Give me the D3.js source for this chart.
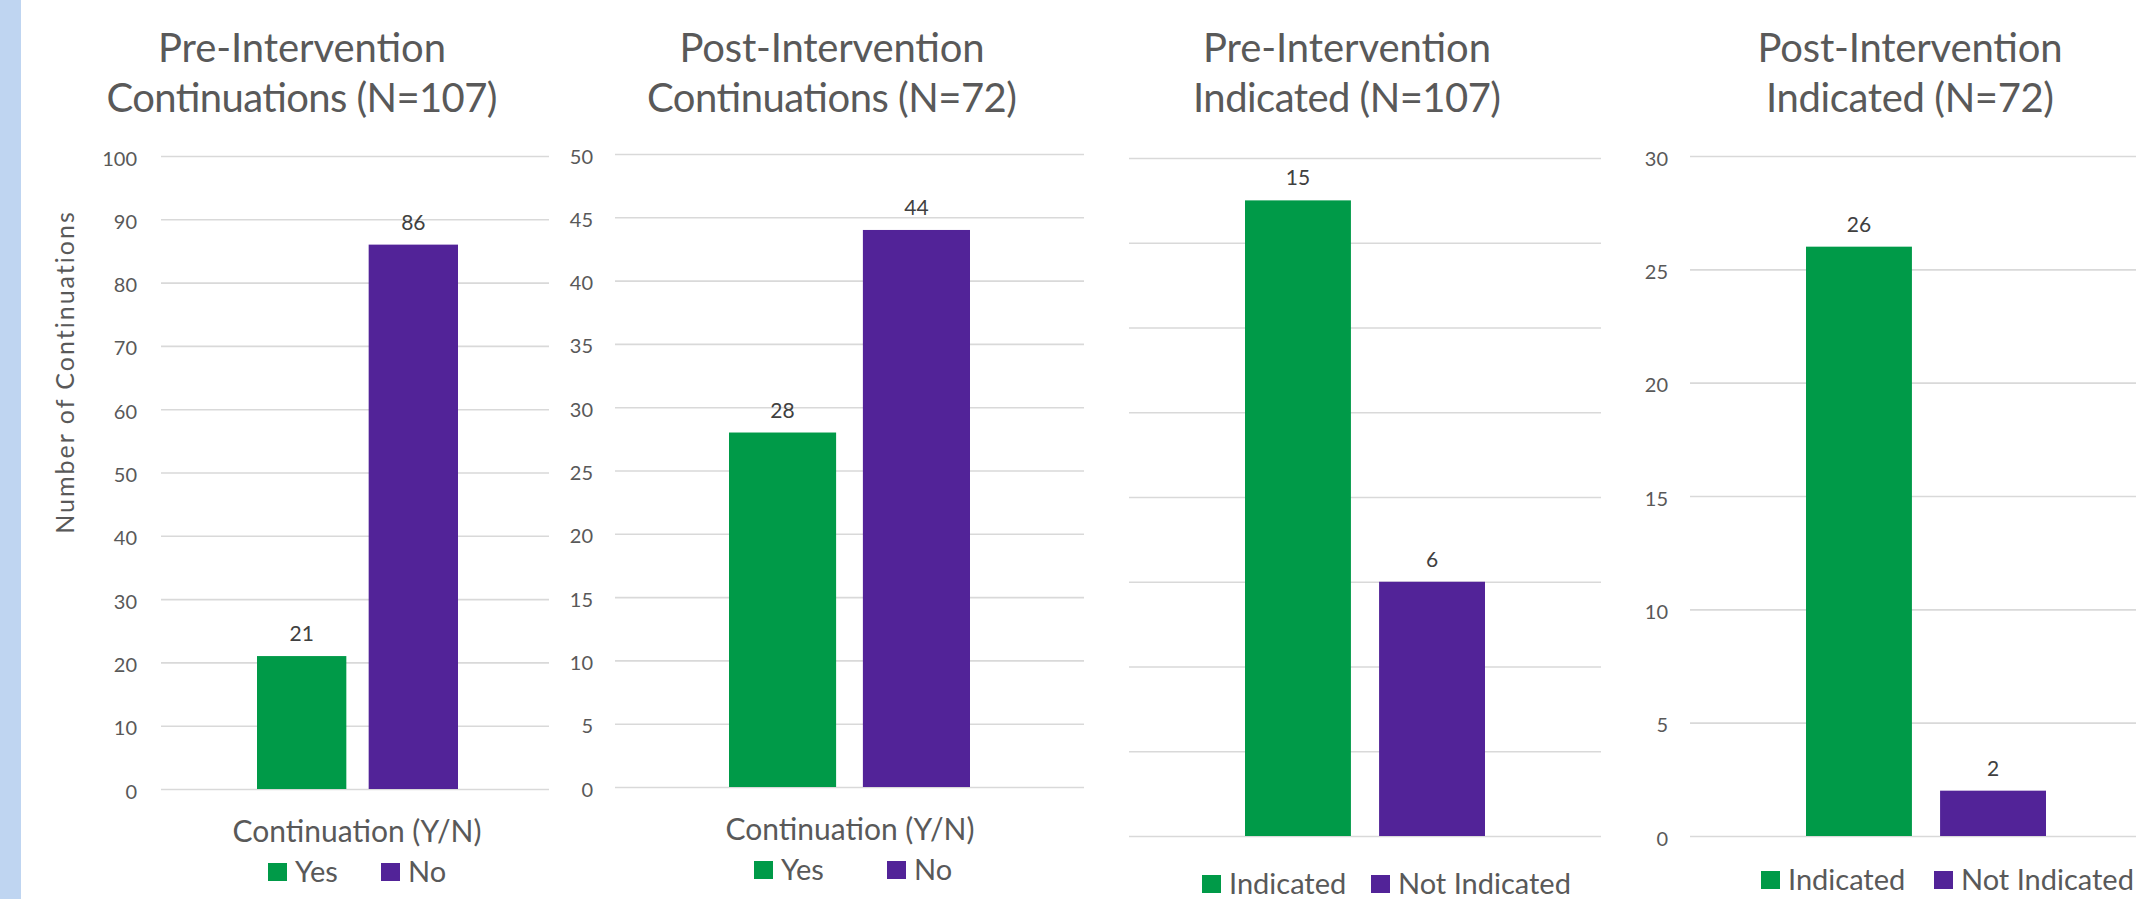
<!DOCTYPE html>
<html>
<meta charset="utf-8" />
<head>
<title>Continuations and Indications</title>
<style>
body {
  margin: 0;
  background: #ffffff;
}
svg text {
  font-family: Lato, "Open Sans", sans-serif;
}
.grid line {
  stroke: #d9d9d9;
  stroke-width: 1.6px;
}
.grid .domain {
  display: none;
}
.ticks text {
  font-size: 20px;
  fill: #595959;
}
.ticks .domain, .ticks line {
  display: none;
}
.title {
  font-size: 40px;
  fill: #595959;
  text-anchor: middle;
}
.barlabel {
  font-size: 21px;
  fill: #404040;
  text-anchor: middle;
}
.axistitle {
  font-size: 30px;
  fill: #595959;
  text-anchor: middle;
}
.legend text {
  font-size: 29px;
  fill: #595959;
}
</style>
<script src="https://cdn.jsdelivr.net/npm/d3@7"></script>
</head>

<body>
<svg class="chart"></svg>

<script>
var chartWidth = 2136;
var chartHeight = 899;

/********
 * Data *
 ********/

var continuationCategories = ["Yes", "No"];
var indicatedCategories = ["Indicated", "Not Indicated"];

var preContinuations = [21, 86];
var postContinuations = [28, 44];
var preIndicated = [15, 6];
var postIndicated = [26, 2];

var panelTitles = [
  ["Pre-Intervention", "Continuations (N=107)"],
  ["Post-Intervention", "Continuations (N=72)"],
  ["Pre-Intervention", "Indicated (N=107)"],
  ["Post-Intervention", "Indicated (N=72)"]
];

var yMaxes = [100, 50, 16, 30];
var yTickSteps = [10, 5, 2, 5];

var xAxisTitle = "Continuation (Y/N)";
var yAxisTitle = "Number of Continuations";

var colors = ["#009a48", "#522398"];

/**********
 * Layout *
 **********/

// one entry per panel: gridlines, bar band, value axis, titles, legend
var panels = [
  { cats: continuationCategories, values: preContinuations,
    gridX: [161, 549], barX: [257, 458], pad: 0.2, yRange: [789, 156],
    labelRight: 137, titleX: 302, titleW: [288, 391], xTitle: { x: 357, y: 842 },
    legend: { y: 882, xs: [268, 381] } },
  { cats: continuationCategories, values: postContinuations,
    gridX: [615, 1084], barX: [729, 970], pad: 0.2, yRange: [787, 154],
    labelRight: 593, titleX: 832, titleW: [305, 370], xTitle: { x: 850, y: 840 },
    legend: { y: 880, xs: [754, 887] } },
  { cats: indicatedCategories, values: preIndicated,
    gridX: [1129, 1601], barX: [1245, 1485], pad: 0.21, yRange: [836, 158],
    labelRight: null, titleX: 1347, titleW: [288, 308], xTitle: null,
    legend: { y: 894, xs: [1202, 1371] } },
  { cats: indicatedCategories, values: postIndicated,
    gridX: [1690, 2136], barX: [1806, 2046], pad: 0.21, yRange: [836, 156],
    labelRight: 1668, titleX: 1910, titleW: [305, 288], xTitle: null,
    legend: { y: 890, xs: [1761, 1934] } }
];

var svg = d3.select(".chart")
    .attr("width", chartWidth)
    .attr("height", chartHeight);

svg.append("rect")
    .attr("x", 0).attr("y", 0)
    .attr("width", 21).attr("height", chartHeight)
    .attr("fill", "#bfd5f1");

/**************
 * Make Chart *
 **************/

function makePanel(p, i) {
  var g = svg.append("g");

  var y = d3.scaleLinear()
      .domain([0, yMaxes[i]])
      .range(p.yRange);

  var x = d3.scaleBand()
      .domain(p.cats)
      .range(p.barX)
      .paddingInner(p.pad)
      .paddingOuter(0);

  var c = d3.scaleOrdinal()
      .domain(p.cats)
      .range(colors);

  var tickVals = d3.range(0, yMaxes[i] + 0.001, yTickSteps[i]);

  // gridlines
  g.append("g")
      .attr("class", "grid")
      .attr("transform", "translate(" + p.gridX[1] + ",0)")
      .call(d3.axisLeft(y)
        .tickValues(tickVals)
        .tickSize(p.gridX[1] - p.gridX[0])
        .tickFormat(""));

  // tick labels
  if (p.labelRight !== null) {
    var ticks = g.append("g")
        .attr("class", "ticks")
        .attr("transform", "translate(" + p.labelRight + ",0)")
        .call(d3.axisLeft(y)
          .tickValues(tickVals)
          .tickSize(0)
          .tickPadding(0));
    ticks.selectAll("text").attr("dy", "0.45em");
  }

  var data = p.cats.map(function(k, j) { return { cat: k, value: p.values[j] }; });

  g.selectAll("rect.bar")
      .data(data)
      .enter().append("rect")
      .attr("class", "bar")
      .attr("x", function(d) { return x(d.cat); })
      .attr("width", x.bandwidth())
      .attr("y", function(d) { return y(d.value); })
      .attr("height", function(d) { return y(0) - y(d.value); })
      .attr("fill", function(d) { return c(d.cat); });

  g.selectAll("text.barlabel")
      .data(data)
      .enter().append("text")
      .attr("class", "barlabel")
      .attr("x", function(d) { return x(d.cat) + x.bandwidth() / 2; })
      .attr("y", function(d) { return y(d.value) - 15; })
      .text(function(d) { return d.value; });

  // title, two lines
  [62, 112].forEach(function(ty, j) {
    g.append("text")
        .attr("class", "title")
        .attr("x", p.titleX)
        .attr("y", ty)
        .attr("textLength", p.titleW[j])
        .attr("lengthAdjust", "spacing")
        .text(panelTitles[i][j]);
  });

  if (p.xTitle) {
    g.append("text")
        .attr("class", "axistitle")
        .attr("x", p.xTitle.x)
        .attr("y", p.xTitle.y)
        .text(xAxisTitle);
  }

  // legend
  var leg = g.append("g").attr("class", "legend");
  p.cats.forEach(function(k, j) {
    leg.append("rect")
        .attr("x", p.legend.xs[j])
        .attr("y", p.legend.y - 19)
        .attr("width", 19)
        .attr("height", 18)
        .attr("fill", c(k));
    leg.append("text")
        .attr("x", p.legend.xs[j] + 27)
        .attr("y", p.legend.y)
        .text(k);
  });
}

panels.forEach(makePanel);

svg.append("text")
    .attr("class", "axistitle")
    .attr("transform", "translate(74,372) rotate(-90)")
    .style("font-size", "25px")
    .style("letter-spacing", "2px")
    .text(yAxisTitle);

</script>
</body>
</html>
